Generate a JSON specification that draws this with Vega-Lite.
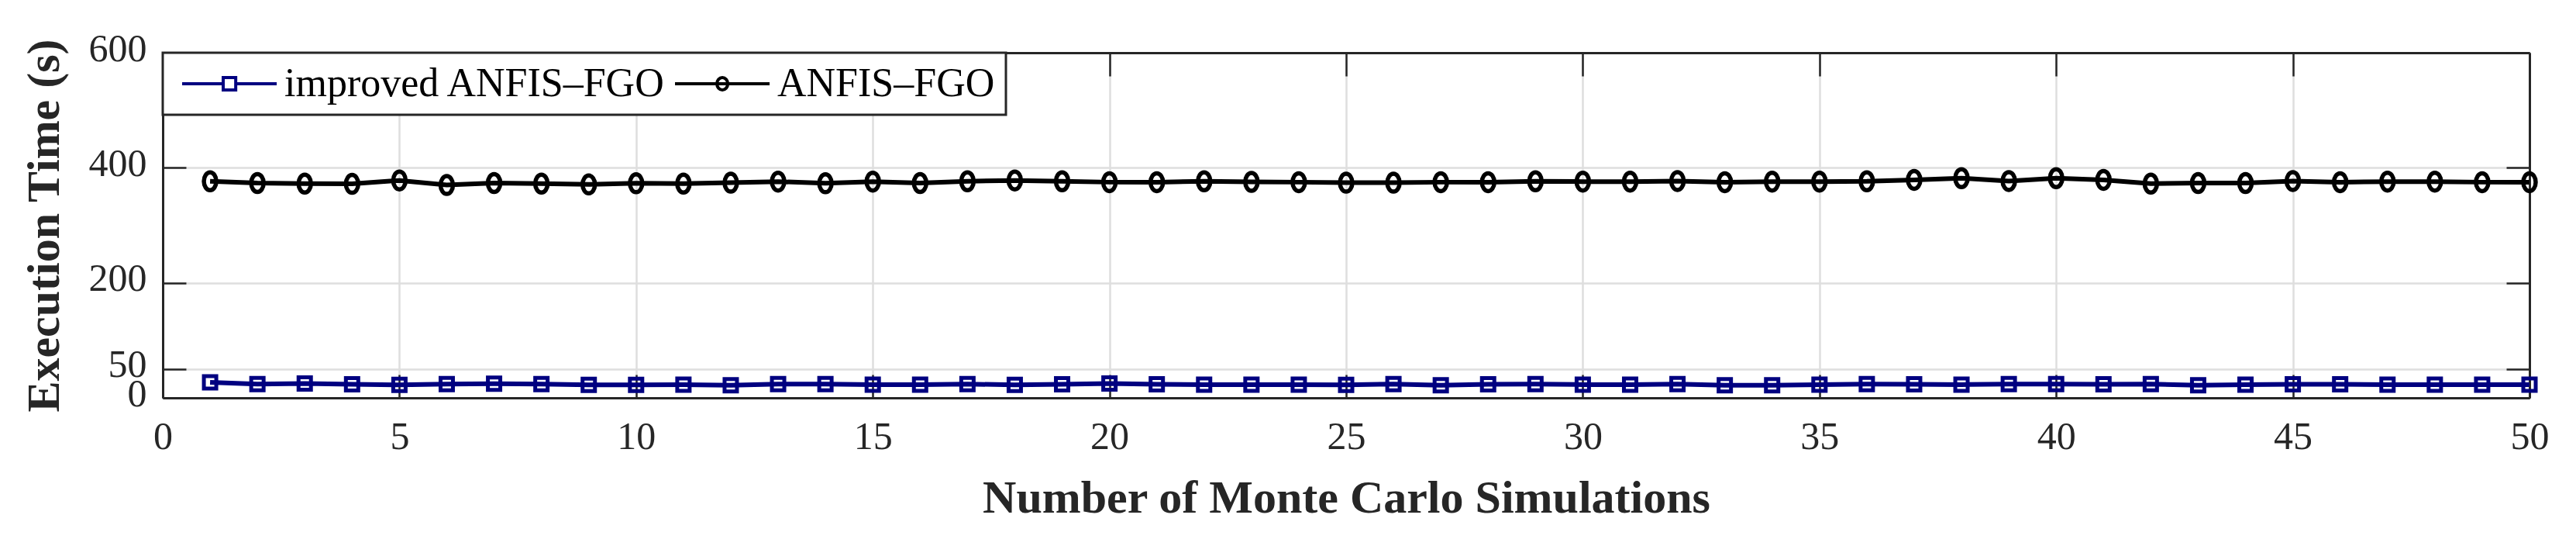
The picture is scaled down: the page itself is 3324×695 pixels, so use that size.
{
  "$schema": "https://vega.github.io/schema/vega-lite/v6.json",
  "width": 3054,
  "height": 445,
  "autosize": {"type": "none"},
  "padding": {"left": 210, "top": 68, "right": 60, "bottom": 182},
  "background": "white",
  "config": {"font": "Liberation Serif", "view": {"stroke": null}},
  "data": {"values": [
    {"run":1,"series":"ANFIS–FGO","time":376.5},{"run":2,"series":"ANFIS–FGO","time":373.5},{"run":3,"series":"ANFIS–FGO","time":372.5},{"run":4,"series":"ANFIS–FGO","time":372},{"run":5,"series":"ANFIS–FGO","time":378},
    {"run":6,"series":"ANFIS–FGO","time":370},{"run":7,"series":"ANFIS–FGO","time":373.5},{"run":8,"series":"ANFIS–FGO","time":372.5},{"run":9,"series":"ANFIS–FGO","time":371},{"run":10,"series":"ANFIS–FGO","time":373},
    {"run":11,"series":"ANFIS–FGO","time":372.5},{"run":12,"series":"ANFIS–FGO","time":374},{"run":13,"series":"ANFIS–FGO","time":376},{"run":14,"series":"ANFIS–FGO","time":373},{"run":15,"series":"ANFIS–FGO","time":376},
    {"run":16,"series":"ANFIS–FGO","time":373.5},{"run":17,"series":"ANFIS–FGO","time":376.5},{"run":18,"series":"ANFIS–FGO","time":378},{"run":19,"series":"ANFIS–FGO","time":376.5},{"run":20,"series":"ANFIS–FGO","time":375},
    {"run":21,"series":"ANFIS–FGO","time":375},{"run":22,"series":"ANFIS–FGO","time":376.5},{"run":23,"series":"ANFIS–FGO","time":375.5},{"run":24,"series":"ANFIS–FGO","time":375},{"run":25,"series":"ANFIS–FGO","time":374},
    {"run":26,"series":"ANFIS–FGO","time":374},{"run":27,"series":"ANFIS–FGO","time":375},{"run":28,"series":"ANFIS–FGO","time":375},{"run":29,"series":"ANFIS–FGO","time":376.5},{"run":30,"series":"ANFIS–FGO","time":376},
    {"run":31,"series":"ANFIS–FGO","time":376},{"run":32,"series":"ANFIS–FGO","time":377},{"run":33,"series":"ANFIS–FGO","time":375},{"run":34,"series":"ANFIS–FGO","time":376},{"run":35,"series":"ANFIS–FGO","time":376},
    {"run":36,"series":"ANFIS–FGO","time":376.5},{"run":37,"series":"ANFIS–FGO","time":379},{"run":38,"series":"ANFIS–FGO","time":382},{"run":39,"series":"ANFIS–FGO","time":377},{"run":40,"series":"ANFIS–FGO","time":382},
    {"run":41,"series":"ANFIS–FGO","time":379},{"run":42,"series":"ANFIS–FGO","time":372.5},{"run":43,"series":"ANFIS–FGO","time":373.5},{"run":44,"series":"ANFIS–FGO","time":373.5},{"run":45,"series":"ANFIS–FGO","time":377},
    {"run":46,"series":"ANFIS–FGO","time":375},{"run":47,"series":"ANFIS–FGO","time":376},{"run":48,"series":"ANFIS–FGO","time":376},{"run":49,"series":"ANFIS–FGO","time":375},{"run":50,"series":"ANFIS–FGO","time":375},
    {"run":1,"series":"improved ANFIS–FGO","time":27},{"run":2,"series":"improved ANFIS–FGO","time":24},{"run":3,"series":"improved ANFIS–FGO","time":25},{"run":4,"series":"improved ANFIS–FGO","time":23.5},{"run":5,"series":"improved ANFIS–FGO","time":22.5},
    {"run":6,"series":"improved ANFIS–FGO","time":24},{"run":7,"series":"improved ANFIS–FGO","time":24.5},{"run":8,"series":"improved ANFIS–FGO","time":24},{"run":9,"series":"improved ANFIS–FGO","time":22.5},{"run":10,"series":"improved ANFIS–FGO","time":22.5},
    {"run":11,"series":"improved ANFIS–FGO","time":23},{"run":12,"series":"improved ANFIS–FGO","time":22},{"run":13,"series":"improved ANFIS–FGO","time":24},{"run":14,"series":"improved ANFIS–FGO","time":24},{"run":15,"series":"improved ANFIS–FGO","time":23},
    {"run":16,"series":"improved ANFIS–FGO","time":23},{"run":17,"series":"improved ANFIS–FGO","time":24},{"run":18,"series":"improved ANFIS–FGO","time":22.5},{"run":19,"series":"improved ANFIS–FGO","time":23.5},{"run":20,"series":"improved ANFIS–FGO","time":25},
    {"run":21,"series":"improved ANFIS–FGO","time":23.5},{"run":22,"series":"improved ANFIS–FGO","time":23},{"run":23,"series":"improved ANFIS–FGO","time":23},{"run":24,"series":"improved ANFIS–FGO","time":23},{"run":25,"series":"improved ANFIS–FGO","time":22.5},
    {"run":26,"series":"improved ANFIS–FGO","time":24},{"run":27,"series":"improved ANFIS–FGO","time":22},{"run":28,"series":"improved ANFIS–FGO","time":23.5},{"run":29,"series":"improved ANFIS–FGO","time":24},{"run":30,"series":"improved ANFIS–FGO","time":23},
    {"run":31,"series":"improved ANFIS–FGO","time":23},{"run":32,"series":"improved ANFIS–FGO","time":24},{"run":33,"series":"improved ANFIS–FGO","time":22},{"run":34,"series":"improved ANFIS–FGO","time":22},{"run":35,"series":"improved ANFIS–FGO","time":23},
    {"run":36,"series":"improved ANFIS–FGO","time":24},{"run":37,"series":"improved ANFIS–FGO","time":23.5},{"run":38,"series":"improved ANFIS–FGO","time":23},{"run":39,"series":"improved ANFIS–FGO","time":24},{"run":40,"series":"improved ANFIS–FGO","time":24},
    {"run":41,"series":"improved ANFIS–FGO","time":23.5},{"run":42,"series":"improved ANFIS–FGO","time":24},{"run":43,"series":"improved ANFIS–FGO","time":22},{"run":44,"series":"improved ANFIS–FGO","time":23},{"run":45,"series":"improved ANFIS–FGO","time":23.5},
    {"run":46,"series":"improved ANFIS–FGO","time":23.5},{"run":47,"series":"improved ANFIS–FGO","time":23},{"run":48,"series":"improved ANFIS–FGO","time":23},{"run":49,"series":"improved ANFIS–FGO","time":23},{"run":50,"series":"improved ANFIS–FGO","time":23}
  ]},
  "layer": [
    {
      "mark": {"type": "line", "strokeWidth": 6},
      "encoding": {
        "x": {"field": "run", "type": "quantitative", "scale": {"domain": [0, 50], "nice": false, "zero": false},
          "axis": {"orient": "bottom", "values": [0,5,10,15,20,25,30,35,40,45,50], "title": "Number of Monte Carlo Simulations",
            "titleFont": "Liberation Serif", "titleFontSize": 60, "titleFontWeight": "bold", "titleColor": "#262626", "titlePadding": 25,
            "labelFont": "Liberation Serif", "labelFontSize": 50, "labelColor": "#262626", "labelPadding": 55, "labelFlush": false, "labelOverlap": false,
            "tickSize": -30, "tickWidth": 2.5, "tickColor": "#262626", "domainColor": "#262626", "domainWidth": 3,
            "grid": true, "gridColor": "#dedede", "gridWidth": 2.5}},
        "y": {"field": "time", "type": "quantitative", "scale": {"domain": [0, 600], "nice": false},
          "axis": {"orient": "left", "values": [0, 50, 200, 400, 600], "title": "Execution Time (s)",
            "titleFont": "Liberation Serif", "titleFontSize": 60, "titleFontWeight": "bold", "titleColor": "#262626", "titlePadding": 26,
            "labelFont": "Liberation Serif", "labelFontSize": 50, "labelColor": "#262626", "labelPadding": 51, "labelOffset": -5, "labelFlush": false, "labelOverlap": false,
            "tickSize": -30, "tickWidth": 2.5, "tickColor": "#262626", "domainColor": "#262626", "domainWidth": 3,
            "grid": true, "gridColor": "#dedede", "gridWidth": 2.5}},
        "color": {"field": "series", "type": "nominal",
          "scale": {"domain": ["improved ANFIS–FGO", "ANFIS–FGO"], "range": ["#000080", "#000000"]},
          "legend": {"orient": "none", "legendX": 0, "legendY": 0, "direction": "horizontal", "title": null,
            "labelFont": "Liberation Serif", "labelFontSize": 52, "labelColor": "#000000", "labelOffset": 91, "labelLimit": 0,
            "symbolSize": 656, "symbolStrokeWidth": 4, "symbolType": "circle", "columnPadding": 0, "padding": 14,
            "fillColor": "white", "strokeColor": "#262626",
            "encode": {
              "symbols": {"update": {
                "shape": {"signal": "datum.value === 'ANFIS–FGO' ? 'M-1.17,0H8.36M4.15,0A0.55,0.62,0,1,1,3.05,0A0.55,0.62,0,1,1,4.15,0Z' : 'M-1.17,0H2.97M4.23,0H8.36M2.97,-0.62H4.23V0.62H2.97Z'"},
                "fill": {"value": "transparent"},
                "strokeWidth": {"value": 4}}},
              "legend": {"update": {"strokeWidth": {"value": 3}}}
            }}}
      }
    },
    {
      "transform": [{"filter": "datum.series === 'improved ANFIS–FGO'"}],
      "mark": {"type": "point", "filled": false, "strokeWidth": 5, "size": 400, "opacity": 1, "shape": "M-0.8,-0.8H0.8V0.8H-0.8Z"},
      "encoding": {
        "x": {"field": "run", "type": "quantitative",
          "axis": {"orient": "top", "values": [0,5,10,15,20,25,30,35,40,45,50], "title": null, "labels": false,
            "tickSize": -30, "tickWidth": 2.5, "tickColor": "#262626", "domainColor": "#262626", "domainWidth": 3, "grid": false}},
        "y": {"field": "time", "type": "quantitative",
          "axis": {"orient": "right", "values": [0, 50, 200, 400, 600], "title": null, "labels": false,
            "tickSize": -30, "tickWidth": 2.5, "tickColor": "#262626", "domainColor": "#262626", "domainWidth": 3, "grid": false}},
        "color": {"field": "series", "type": "nominal", "legend": null}
      }
    },
    {
      "transform": [{"filter": "datum.series === 'ANFIS–FGO'"}],
      "mark": {"type": "point", "filled": false, "strokeWidth": 5.5, "size": 400, "opacity": 1, "shape": "M0.8,0A0.8,1.15,0,1,1,-0.8,0A0.8,1.15,0,1,1,0.8,0Z"},
      "encoding": {
        "x": {"field": "run", "type": "quantitative", "axis": null},
        "y": {"field": "time", "type": "quantitative", "axis": null},
        "color": {"field": "series", "type": "nominal", "legend": null}
      }
    }
  ],
  "resolve": {"axis": {"x": "independent", "y": "independent"}}
}
